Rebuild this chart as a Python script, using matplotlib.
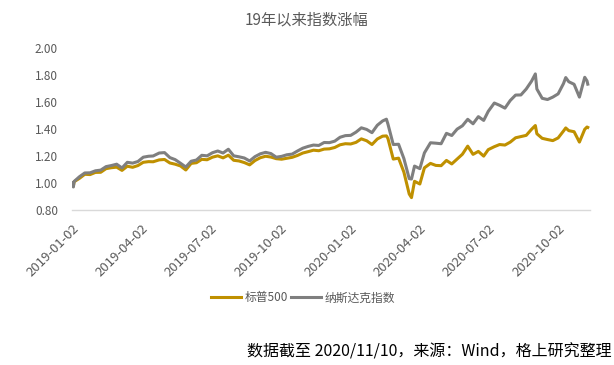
import matplotlib
matplotlib.use("Agg")
import matplotlib.pyplot as plt
import matplotlib.dates as mdates
import pandas as pd

plt.rcParams['font.family'] = ['Noto Sans CJK SC', 'DejaVu Sans']

dates = [
    "2019-01-02", "2019-01-03", "2019-01-04", "2019-01-11", "2019-01-18", "2019-01-25",
    "2019-02-01", "2019-02-08", "2019-02-15", "2019-02-22", "2019-03-01", "2019-03-08",
    "2019-03-15", "2019-03-22", "2019-03-29", "2019-04-05", "2019-04-12", "2019-04-18",
    "2019-04-26", "2019-05-03", "2019-05-10", "2019-05-17", "2019-05-24", "2019-05-31",
    "2019-06-07", "2019-06-14", "2019-06-21", "2019-06-28", "2019-07-05", "2019-07-12",
    "2019-07-19", "2019-07-26", "2019-08-02", "2019-08-09", "2019-08-16", "2019-08-23",
    "2019-08-30", "2019-09-06", "2019-09-13", "2019-09-20", "2019-09-27", "2019-10-04",
    "2019-10-11", "2019-10-18", "2019-10-25", "2019-11-01", "2019-11-08", "2019-11-15",
    "2019-11-22", "2019-11-29", "2019-12-06", "2019-12-13", "2019-12-20", "2019-12-27",
    "2020-01-03", "2020-01-10", "2020-01-17", "2020-01-24", "2020-01-31", "2020-02-07",
    "2020-02-14", "2020-02-19", "2020-02-21", "2020-02-28", "2020-03-06", "2020-03-13",
    "2020-03-20", "2020-03-23", "2020-03-27", "2020-04-03", "2020-04-09", "2020-04-17",
    "2020-04-24", "2020-05-01", "2020-05-08", "2020-05-15", "2020-05-22", "2020-05-29",
    "2020-06-05", "2020-06-12", "2020-06-19", "2020-06-26", "2020-07-02", "2020-07-10",
    "2020-07-17", "2020-07-24", "2020-07-31", "2020-08-07", "2020-08-14", "2020-08-21",
    "2020-08-28", "2020-09-02", "2020-09-04", "2020-09-11", "2020-09-18", "2020-09-25",
    "2020-10-02", "2020-10-09", "2020-10-12", "2020-10-16", "2020-10-23", "2020-10-30",
    "2020-11-06", "2020-11-09", "2020-11-10",
]

sp500 = [
    1.000, 0.975, 1.009, 1.034, 1.064, 1.062,
    1.078, 1.079, 1.106, 1.113, 1.117, 1.093,
    1.124, 1.116, 1.129, 1.153, 1.158, 1.157,
    1.171, 1.174, 1.148, 1.139, 1.126, 1.096,
    1.145, 1.150, 1.175, 1.172, 1.191, 1.201,
    1.186, 1.206, 1.168, 1.163, 1.151, 1.134,
    1.166, 1.187, 1.198, 1.192, 1.180, 1.176,
    1.183, 1.190, 1.204, 1.222, 1.232, 1.243,
    1.239, 1.251, 1.253, 1.263, 1.283, 1.291,
    1.289, 1.301, 1.327, 1.313, 1.285, 1.326,
    1.347, 1.349, 1.330, 1.177, 1.184, 1.080,
    0.918, 0.891, 1.012, 0.992, 1.112, 1.145,
    1.130, 1.128, 1.167, 1.141, 1.177, 1.213,
    1.273, 1.212, 1.234, 1.199, 1.247, 1.269,
    1.285, 1.281, 1.303, 1.335, 1.344, 1.353,
    1.398, 1.426, 1.365, 1.331, 1.322, 1.314,
    1.334, 1.385, 1.408, 1.388, 1.380, 1.303,
    1.398, 1.415, 1.412,
]

nasdaq = [
    1.000, 0.970, 1.011, 1.046, 1.074, 1.075,
    1.090, 1.095, 1.121, 1.129, 1.139, 1.111,
    1.153, 1.147, 1.159, 1.191, 1.198, 1.200,
    1.222, 1.225, 1.188, 1.173, 1.146, 1.118,
    1.161, 1.170, 1.205, 1.201, 1.224, 1.237,
    1.222, 1.250, 1.201, 1.194, 1.185, 1.163,
    1.195, 1.216, 1.227, 1.218, 1.191, 1.197,
    1.209, 1.214, 1.237, 1.258, 1.271, 1.281,
    1.278, 1.300, 1.299, 1.310, 1.339, 1.351,
    1.353, 1.377, 1.409, 1.397, 1.373, 1.428,
    1.460, 1.473, 1.437, 1.285, 1.287, 1.181,
    1.032, 1.029, 1.125, 1.106, 1.223, 1.298,
    1.295, 1.291, 1.368, 1.352, 1.399, 1.424,
    1.472, 1.439, 1.492, 1.464, 1.531, 1.593,
    1.576, 1.555, 1.612, 1.652, 1.653, 1.697,
    1.755, 1.809, 1.697, 1.628, 1.619, 1.637,
    1.661, 1.737, 1.782, 1.751, 1.732, 1.637,
    1.784, 1.757, 1.733,
]

tick_dates = ["2019-01-02", "2019-04-02", "2019-07-02", "2019-10-02",
              "2020-01-02", "2020-04-02", "2020-07-02", "2020-10-02"]
yticks = [0.80, 1.00, 1.20, 1.40, 1.60, 1.80, 2.00]

series_names = ["标普500", "纳斯达克指数"]
title = "19年以来指数涨幅"
source = "数据截至 2020/11/10，来源：Wind，格上研究整理"

x = pd.to_datetime(dates)
tx = pd.to_datetime(tick_dates)

fig = plt.figure(figsize=(6.14, 3.65), dpi=100)
ax = fig.add_axes([0.117, 0.425, 0.844, 0.443])

gold = "#BF9000"
gray = "#7F7F7F"
ax.plot(x, sp500, color=gold, lw=2.2, label=series_names[0], solid_joinstyle="round")
ax.plot(x, nasdaq, color=gray, lw=2.2, label=series_names[1], solid_joinstyle="round")

ax.set_ylim(0.8, 2.0)
ax.set_yticks(yticks)
ax.set_yticklabels([f"{v:.2f}" for v in yticks])
ax.set_xlim(x[0] - pd.Timedelta(days=1), x[-1] + pd.Timedelta(days=3))
ax.set_xticks(tx)
ax.set_xticklabels(tick_dates, rotation=45, ha="right", rotation_mode="anchor")

for s in ["top", "right", "left"]:
    ax.spines[s].set_visible(False)
ax.spines["bottom"].set_color("#D9D9D9")
ax.spines["bottom"].set_linewidth(1.0)
ax.tick_params(axis="both", length=0, colors="#595959")
ax.tick_params(axis="y", pad=10, labelsize=8.5)
ax.tick_params(axis="x", pad=9, labelsize=9.5)

fig.text(0.5, 1 - 20 / 365, title, ha="center", va="center", fontsize=11, color="#595959")

fig.legend(loc="center", bbox_to_anchor=(303 / 614, 1 - 298 / 365), ncol=2, frameon=False,
           fontsize=8.5, handlelength=2.5, handletextpad=0.3, columnspacing=0.3,
           labelcolor="#595959")

fig.text(612 / 614, 1 - 352 / 365, source, ha="right", va="center", fontsize=11.5, color="black")

fig.savefig("out.png", dpi=100)
